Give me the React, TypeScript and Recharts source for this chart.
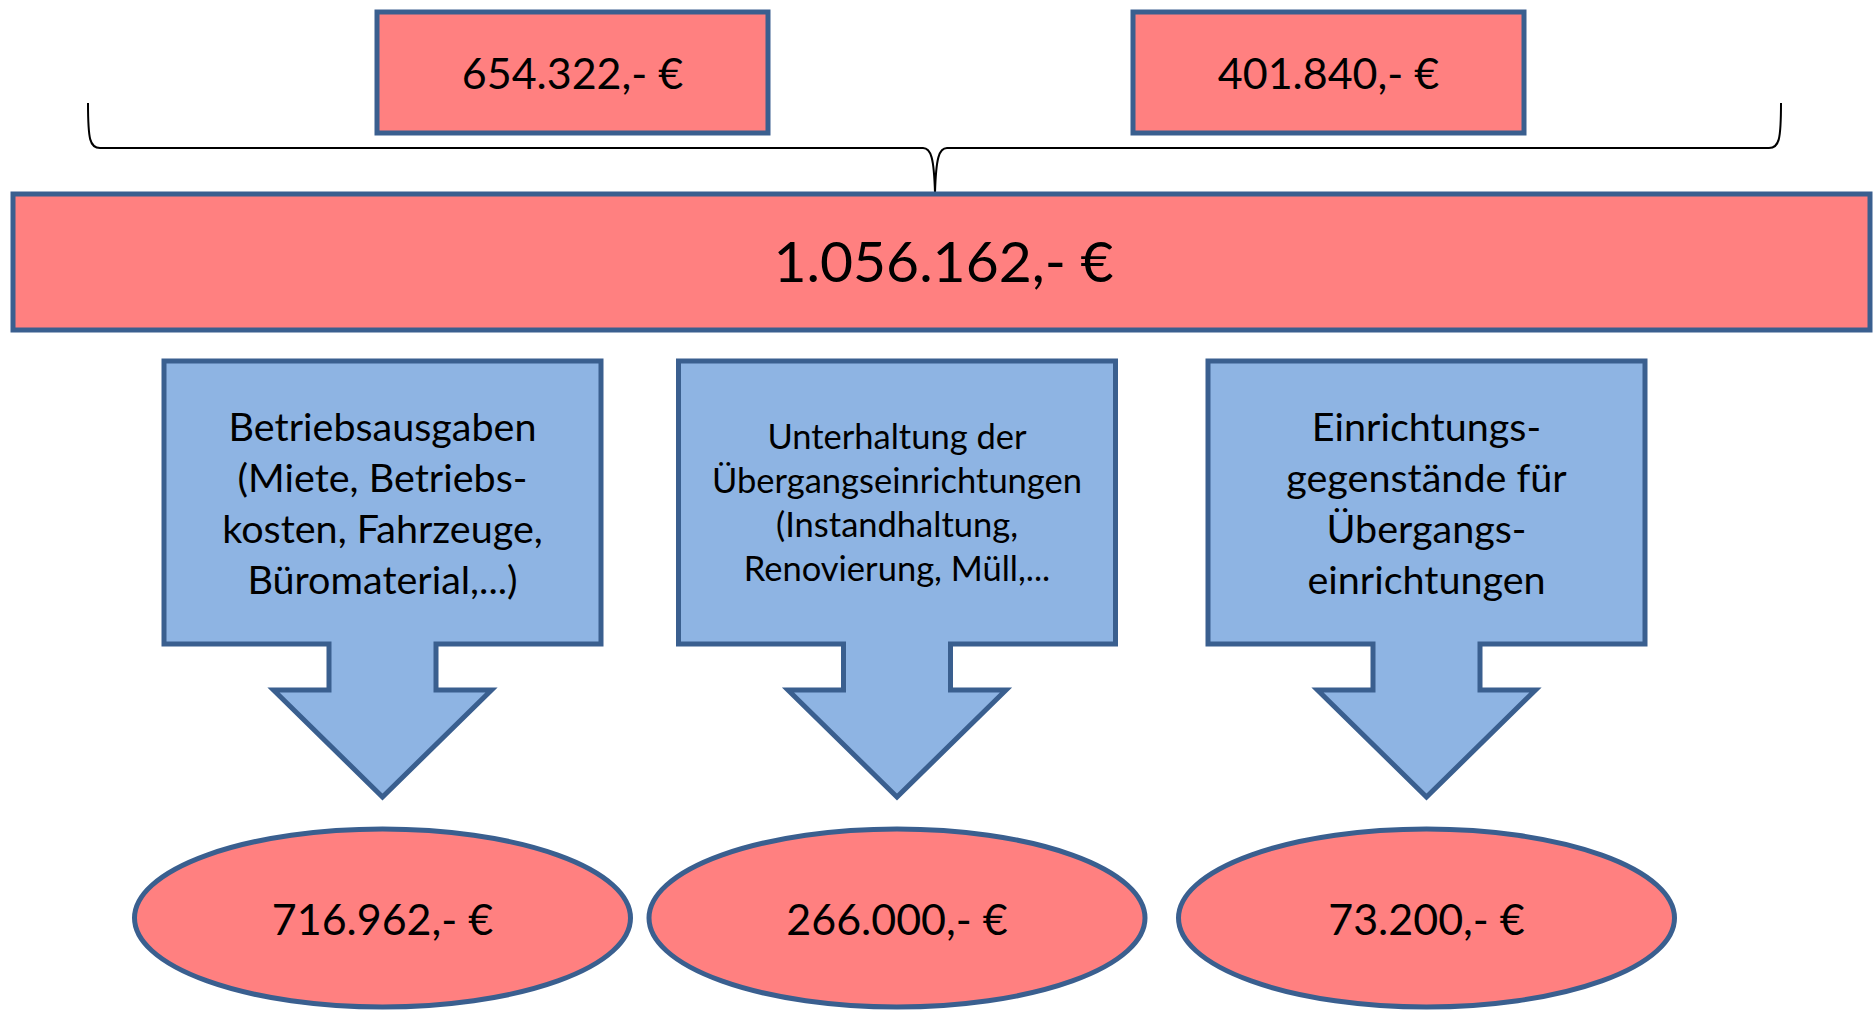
import { ScatterChart, Scatter, XAxis, YAxis } from 'recharts'

// values
const TOP_VALUES = [654322, 401840]
const TOTAL = 1056162
const CATEGORY_LINES = [
  ['Betriebsausgaben', '(Miete, Betriebs-', 'kosten, Fahrzeuge,', 'Büromaterial,...)'],
  ['Unterhaltung der', 'Übergangseinrichtungen', '(Instandhaltung,', 'Renovierung, Müll,...'],
  ['Einrichtungs-', 'gegenstände für', 'Übergangs-', 'einrichtungen'],
]
const CATEGORY_VALUES = [716962, 266000, 73200]

// layout (pixels == axis units, domain matches the canvas)
const W = 1874
const H = 1010
const TOP_X = [572.5, 1328.5]
const TOP_Y = 72.5
const TOTAL_X = 941.5
const TOTAL_Y = 262
const BRACE_TIP = { x: 935, y: 193 }
const COL_X = [382.5, 897, 1426.5]
const CALLOUT_TOP = 361
const ELLIPSE_Y = 918
const CAT_FONT = [39.5, 34.5, 39.5]
const CAT_LINE_H = [51, 44, 51]

const RED = '#FF8080'
const BLUE = '#8EB4E3'
const EDGE = '#3A5F8F'
const FONT = "Lato, 'Open Sans', sans-serif"

const euro = (v: number) => String(v).replace(/\B(?=(\d{3})+(?!\d))/g, '.') + ',- €'

const topData = TOP_VALUES.map((value, i) => ({ x: TOP_X[i], y: TOP_Y, value }))
const totalData = [{ x: TOTAL_X, y: TOTAL_Y, value: TOTAL }]
const braceData = [{ x: BRACE_TIP.x, y: BRACE_TIP.y }]
const calloutData = CATEGORY_LINES.map((lines, i) => ({ x: COL_X[i], y: CALLOUT_TOP, lines, i }))
const ellipseData = CATEGORY_VALUES.map((value, i) => ({ x: COL_X[i], y: ELLIPSE_Y, value }))

function TopBox(props: any) {
  const { cx, cy, payload } = props
  const w = 391, h = 121
  return (
    <g>
      <rect x={cx - w / 2} y={cy - h / 2} width={w} height={h} fill={RED} stroke={EDGE} strokeWidth={5} />
      <text x={cx} y={cy} textAnchor="middle" dominantBaseline="central" fontSize={43} fontFamily={FONT} fill="#000">
        {euro(payload.value)}
      </text>
    </g>
  )
}

function TotalBar(props: any) {
  const { cx, cy, payload } = props
  const w = 1857, h = 136
  return (
    <g>
      <rect x={cx - w / 2} y={cy - h / 2} width={w} height={h} fill={RED} stroke={EDGE} strokeWidth={5} />
      <text x={cx + 2} y={cy - 2} textAnchor="middle" dominantBaseline="central" fontSize={57} fontFamily={FONT} fill="#000">
        {euro(payload.value)}
      </text>
    </g>
  )
}

function Brace(props: any) {
  const { cx, cy } = props
  const l = 88, r = 1781, top = 103, mid = 148
  const d = [
    `M${l},${top}`,
    `C${l},${mid - 8} ${l + 2},${mid} ${l + 12},${mid}`,
    `L${cx - 12},${mid}`,
    `C${cx - 4},${mid} ${cx - 1},${mid + 10} ${cx},${cy}`,
    `C${cx + 1},${mid + 10} ${cx + 4},${mid} ${cx + 12},${mid}`,
    `L${r - 12},${mid}`,
    `C${r - 2},${mid} ${r},${mid - 8} ${r},${top}`,
  ].join(' ')
  return <path d={d} fill="none" stroke="#000" strokeWidth={2} />
}

function Callout(props: any) {
  const { cx, cy, payload } = props
  const bw = 437, bh = 283, sw = 107, hw = 218
  const boxBottom = cy + bh
  const headTop = 690
  const tip = 797
  const d = [
    `M${cx - bw / 2},${cy}`,
    `L${cx + bw / 2},${cy}`,
    `L${cx + bw / 2},${boxBottom}`,
    `L${cx + sw / 2},${boxBottom}`,
    `L${cx + sw / 2},${headTop}`,
    `L${cx + hw / 2},${headTop}`,
    `L${cx},${tip}`,
    `L${cx - hw / 2},${headTop}`,
    `L${cx - sw / 2},${headTop}`,
    `L${cx - sw / 2},${boxBottom}`,
    `L${cx - bw / 2},${boxBottom}`,
    'Z',
  ].join(' ')
  const fs = CAT_FONT[payload.i]
  const lh = CAT_LINE_H[payload.i]
  const lines: string[] = payload.lines
  const midY = cy + bh / 2 - 1
  const first = midY - ((lines.length - 1) * lh) / 2
  return (
    <g>
      <path d={d} fill={BLUE} stroke={EDGE} strokeWidth={5} strokeLinejoin="miter" />
      {lines.map((t, k) => (
        <text key={k} x={cx} y={first + k * lh} textAnchor="middle" dominantBaseline="central" fontSize={fs} fontFamily={FONT} fill="#000">
          {t}
        </text>
      ))}
    </g>
  )
}

function ValueEllipse(props: any) {
  const { cx, cy, payload } = props
  return (
    <g>
      <ellipse cx={cx} cy={cy} rx={248} ry={89} fill={RED} stroke={EDGE} strokeWidth={5} />
      <text x={cx} y={cy} textAnchor="middle" dominantBaseline="central" fontSize={43} fontFamily={FONT} fill="#000">
        {euro(payload.value)}
      </text>
    </g>
  )
}

export default function App() {
  return (
    <div style={{ position: 'absolute', left: 0, top: 0, width: W, height: H, background: '#fff' }}>
      <ScatterChart width={W} height={H} margin={{ top: 0, right: 0, bottom: 0, left: 0 }}>
        <XAxis type="number" dataKey="x" domain={[0, W]} hide allowDataOverflow />
        <YAxis type="number" dataKey="y" domain={[0, H]} reversed hide allowDataOverflow />
        <Scatter data={braceData} shape={Brace} isAnimationActive={false} />
        <Scatter data={topData} shape={TopBox} isAnimationActive={false} />
        <Scatter data={totalData} shape={TotalBar} isAnimationActive={false} />
        <Scatter data={calloutData} shape={Callout} isAnimationActive={false} />
        <Scatter data={ellipseData} shape={ValueEllipse} isAnimationActive={false} />
      </ScatterChart>
    </div>
  )
}
